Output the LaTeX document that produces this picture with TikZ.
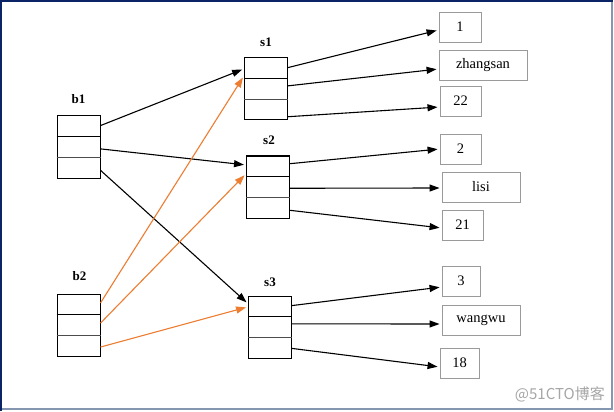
\documentclass[tikz,border=0pt]{standalone}
\usepackage{fontspec}
\setmainfont{Liberation Serif}
\newfontfamily\cjkfont{Noto Sans CJK SC}
\usetikzlibrary{calc,arrows.meta}
\definecolor{navy}{HTML}{0A2466}
\definecolor{slate}{HTML}{8496B0}
\definecolor{orangeln}{HTML}{ED7D31}
\definecolor{boxgray}{HTML}{9A9A9A}
\begin{document}
\begin{tikzpicture}[x=1pt,y=-1pt,
  record/.style={draw=black, line width=1pt, minimum width=43pt, minimum height=62pt, inner sep=0pt},
  lbl/.style={font=\fontsize{13}{15}\selectfont\bfseries, inner sep=0pt},
  valbox/.style={draw=boxgray, line width=0.9pt, minimum height=30pt, inner sep=0pt, font=\fontsize{14.5}{16}\selectfont},
  ptr/.style={line width=1.1pt, -{Triangle[length=10pt,width=7pt]}, shorten >=2pt},
  optr/.style={ptr, draw=orangeln, -{Triangle[length=10pt,width=7pt,fill=orangeln]}}
]
\useasboundingbox (0,0) rectangle (614,412);
% frame
\fill[white] (0,0) rectangle (614,412);
\draw[slate, line width=2pt] (612,0) -- (612,409) -- (0,409);
\draw[navy, line width=2pt] (1,411) -- (1,1) -- (613,1);

% records
\foreach \n/\x/\y in {b1/78.5/147, b2/78.5/325, s1/266/89, s2/268/187, s3/270/327}{
  \node[record] (\n) at (\x,\y) {};
  \draw[line width=1pt] ($(\n.north west)!0.333!(\n.south west)$) -- ($(\n.north east)!0.333!(\n.south east)$);
  \draw[line width=1pt, black!70] ($(\n.north west)!0.667!(\n.south west)$) -- ($(\n.north east)!0.667!(\n.south east)$);
}
\node[lbl] (lb1) at (78.5,99) {b1};
\node[lbl] (lb2) at (79.5,276) {b2};
\node[lbl] (ls1) at (266,42) {s1};
\node[lbl] (ls2) at (269,140) {s2};
\node[lbl] (ls3) at (270,282) {s3};

% value boxes
\node[valbox, minimum width=42pt] (v1) at (460,27) {1};
\node[valbox, minimum width=88pt] (vzs) at (483,65) {zhangsan};
\node[valbox, minimum width=41pt] (v22) at (460.5,101) {22};
\node[valbox, minimum width=41pt] (v2) at (460.5,149) {2};
\node[valbox, minimum width=78pt] (vls) at (481,187) {lisi};
\node[valbox, minimum width=41pt] (v21) at (462.5,225) {21};
\node[valbox, minimum width=38pt] (v3) at (461,281) {3};
\node[valbox, minimum width=78pt] (vww) at (481,320) {wangwu};
\node[valbox, minimum width=39pt] (v18) at (459.5,363) {18};

% b1 pointers
\draw[ptr] ($(b1.north east)!0.16!(b1.south east)$) -- ($(s1.north west)!0.18!(s1.south west)$);
\draw[ptr] ($(b1.north east)!0.53!(b1.south east)$) -- ($(s2.north west)!0.15!(s2.south west)$);
\draw[ptr] ($(b1.north east)!0.87!(b1.south east)$) -- ($(s3.north west)!0.13!(s3.south west)$);
% b2 pointers
\draw[optr] ($(b2.north east)!0.15!(b2.south east)$) -- ($(s1.north west)!0.29!(s1.south west)$);
\draw[optr] ($(b2.north east)!0.47!(b2.south east)$) -- ($(s2.north west)!0.29!(s2.south west)$);
\draw[optr] ($(b2.north east)!0.85!(b2.south east)$) -- ($(s3.north west)!0.18!(s3.south west)$);

% s1
\draw[ptr] ($(s1.north east)!0.16!(s1.south east)$) -- ([yshift=-3pt]v1.west);
\draw[ptr] ($(s1.north east)!0.45!(s1.south east)$) -- ([yshift=-4pt]vzs.west);
\draw[ptr] ($(s1.north east)!0.94!(s1.south east)$) -- ([yshift=-6pt]v22.west);
% s2
\draw[ptr] ($(s2.north east)!0.13!(s2.south east)$) -- (v2.west);
\draw[ptr] ($(s2.north east)!0.52!(s2.south east)$) -- ([yshift=-1pt]vls.west);
\draw[ptr] ($(s2.north east)!0.87!(s2.south east)$) -- ([yshift=-3pt]v21.west);
% s3
\draw[ptr] ($(s3.north east)!0.16!(s3.south east)$) -- ([yshift=-6pt]v3.west);
\draw[ptr] ($(s3.north east)!0.45!(s3.south east)$) -- ([yshift=-4pt]vww.west);
\draw[ptr] ($(s3.north east)!0.84!(s3.south east)$) -- ([yshift=-4pt]v18.west);

% watermark
\node[anchor=east, text=black!35, font=\cjkfont\fontsize{15}{17}\selectfont, inner sep=0pt] (wm) at (605,394) {@51CTO博客};
\end{tikzpicture}
\end{document}
